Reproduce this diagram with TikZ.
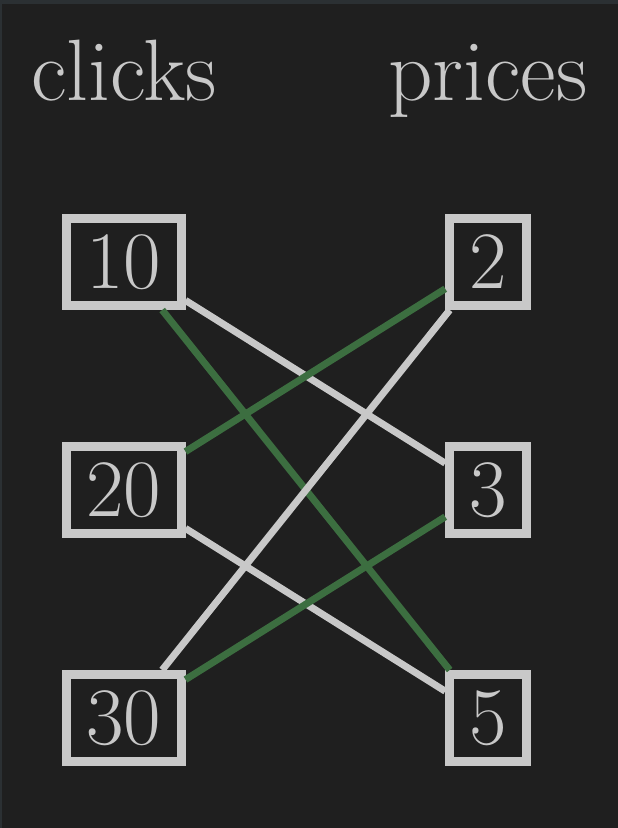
\documentclass[tikz,border=0pt]{standalone}
\usetikzlibrary{positioning}
\definecolor{bgdark}{HTML}{1F1F1F}
\definecolor{bgstrip}{HTML}{2B3033}
\definecolor{boxgray}{HTML}{C8C8C8}
\definecolor{matchgreen}{HTML}{3C6E40}
\begin{document}
\begin{tikzpicture}
  [node distance=5.7cm,on grid,
  every box/.style={draw=boxgray,line width=0.225cm,text=boxgray,
    minimum height=2.175cm,inner xsep=0.49cm,
    font=\fontsize{58}{70}\selectfont},
  head/.style={text=boxgray,text height=0.7em,text depth=0.2em,
    font=\fontsize{62}{74}\selectfont},
  plain edge/.style={draw=boxgray,line width=0.175cm},
  match edge/.style={draw=matchgreen,line width=0.175cm}]
  % background with the thin strips at the top and left
  \fill [bgdark] (-3.1,6.55) rectangle (12.35,-14.15);
  \fill [bgstrip] (-3.1,6.55) rectangle (12.35,6.45);
  \fill [bgstrip] (-3.1,6.55) rectangle (-3.06,-14.15);
  \useasboundingbox (-3.1,6.55) rectangle (12.35,-14.15);
  % clicks column
  \node [every box] (c10) {10};
  \node [every box] (c20) [below=of c10] {20};
  \node [every box] (c30) [below=of c20] {30};
  % prices column
  \node [every box] (p2) [right=9.1cm of c10] {2};
  \node [every box] (p3) [below=of p2] {3};
  \node [every box] (p5) [below=of p3] {5};
  % headings
  \node [head] (clicks) [above=4.12cm of c10] {clicks};
  \node [head] (prices) [above=4.12cm of p2] {prices};
  % pairings
  \draw [plain edge] (c10) -- (p3);
  \draw [match edge] (c10) -- (p5);
  \draw [plain edge] (c20) -- (p5);
  \draw [match edge] (c20) -- (p2);
  \draw [plain edge] (c30) -- (p2);
  \draw [match edge] (c30) -- (p3);
\end{tikzpicture}
\end{document}
